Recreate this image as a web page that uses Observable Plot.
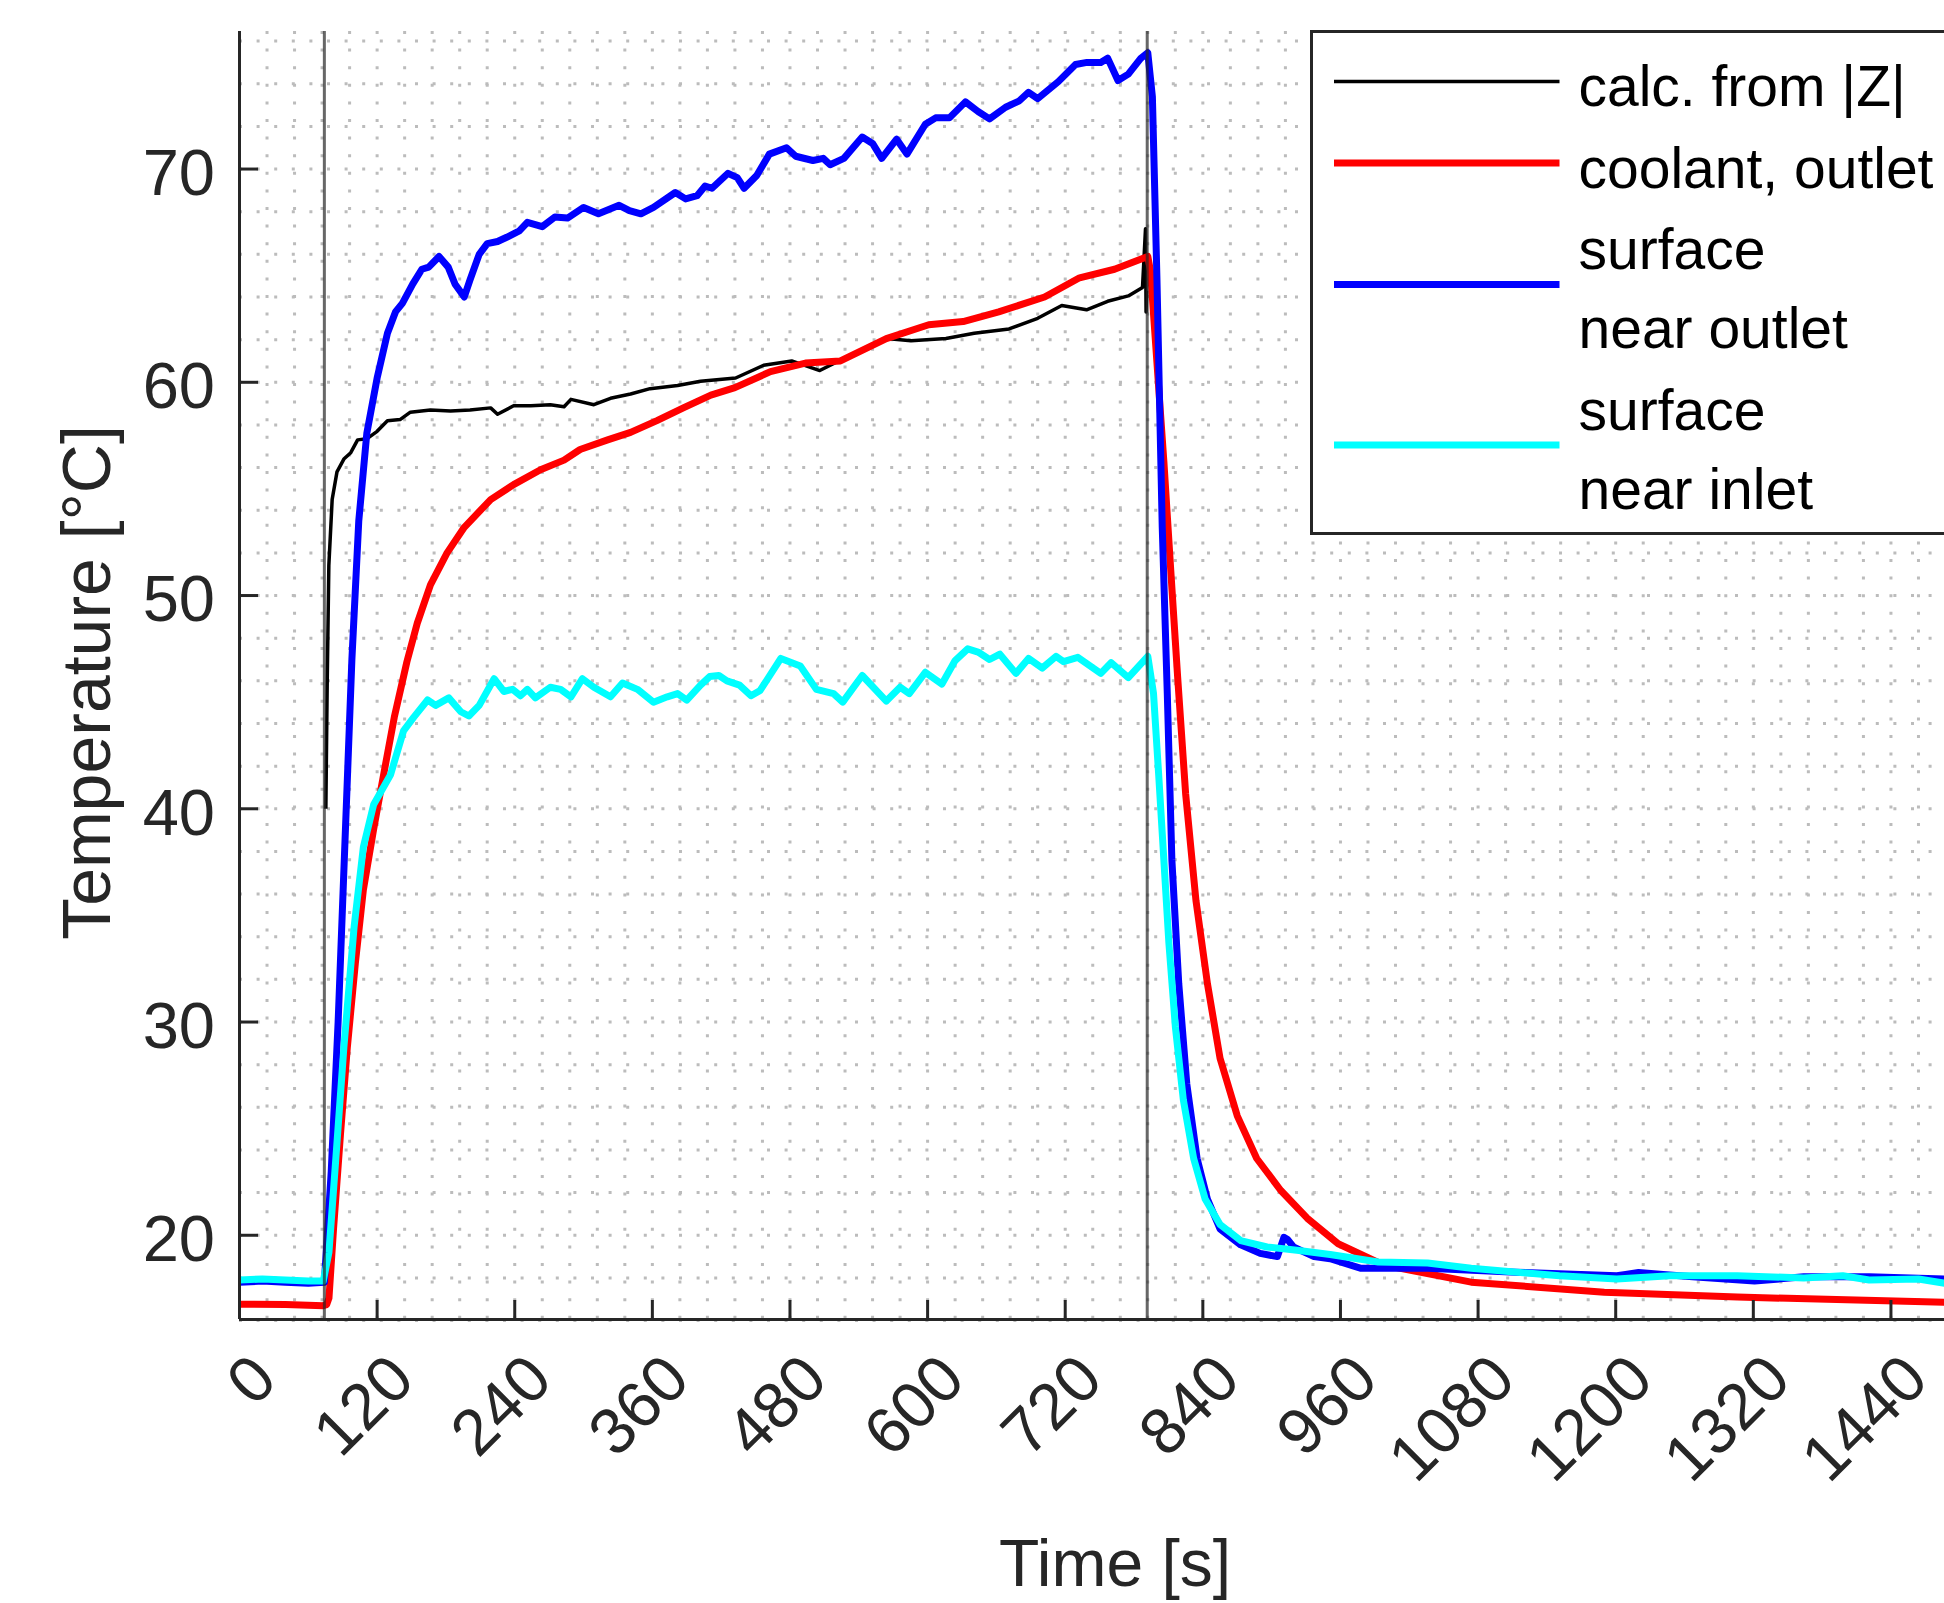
<!DOCTYPE html>
<html>
<head>
<meta charset="utf-8">
<script src="https://cdn.jsdelivr.net/npm/d3@7"></script>
<script src="https://cdn.jsdelivr.net/npm/@observablehq/plot@0.6"></script>
<style>
html, body { margin: 0; padding: 0; background: #fff; overflow: hidden; }
#wrap { position: relative; width: 1944px; height: 1603px; overflow: hidden; background: #fff; }
#legend { position: absolute; left: 1310px; top: 30px; }
</style>
</head>
<body>
<div id="wrap"></div>
<script>
// ---------- data ----------
const xTicks = [0, 120, 240, 360, 480, 600, 720, 840, 960, 1080, 1200, 1320, 1440];
const yTicks = [20, 30, 40, 50, 60, 70];
const xGrid = d3.range(0, 1490, 24);
const yGrid = d3.range(16, 77, 2);
const eventTimes = [74, 791.5];

const seriesNames = ["calc. from |Z|", "coolant, outlet", "surface\nnear outlet", "surface\nnear inlet"];

const blackTime = [75.3, 76.5, 77.9, 80.8, 85, 91, 97, 103, 111, 120, 129, 140, 149, 166.5, 184, 201, 219, 225, 239, 254, 271, 283, 289, 309, 323.5, 341, 358, 382, 402, 432.6, 457, 481.5, 506, 533.5, 564, 585.5, 616, 640.6, 671, 696, 717, 738.6, 757, 775, 787.4, 790, 790.5, 791];
const blackTemp = [40, 46, 51.4, 54.5, 55.8, 56.4, 56.7, 57.3, 57.35, 57.7, 58.2, 58.25, 58.6, 58.7, 58.65, 58.7, 58.8, 58.5, 58.9, 58.9, 58.95, 58.85, 59.2, 58.95, 59.25, 59.45, 59.7, 59.85, 60.05, 60.2, 60.8, 61.0, 60.55, 61.3, 62.05, 61.95, 62.05, 62.3, 62.5, 63.0, 63.6, 63.4, 63.8, 64.05, 64.45, 67.2, 63.3, 64.3];

const redTime = [0, 40, 73, 76, 78, 82, 88, 94, 101, 108, 117, 126, 135, 146, 155, 166.5, 181, 196, 219, 239, 262.5, 283, 297, 321, 341, 364, 387, 411, 432, 463, 493.5, 524, 564, 601, 631, 662, 702, 732.5, 763, 792, 794.4, 800, 806, 812, 818, 825, 834, 844, 855, 870, 887, 908, 931, 958, 998, 1074, 1190, 1306, 1487];
const redTemp = [16.77, 16.75, 16.7, 16.75, 17.05, 20.3, 24.7, 28.8, 32.75, 36.2, 39.05, 41.7, 44.3, 46.9, 48.7, 50.5, 52.0, 53.2, 54.5, 55.2, 55.9, 56.35, 56.85, 57.3, 57.65, 58.2, 58.8, 59.4, 59.75, 60.5, 60.9, 61.0, 62.05, 62.7, 62.85, 63.3, 64.0, 64.9, 65.3, 65.9, 65.2, 60.9, 56.3, 51.2, 46.2, 40.7, 35.7, 31.8, 28.3, 25.6, 23.6, 22.1, 20.8, 19.6, 18.6, 17.8, 17.33, 17.1, 16.86];

const blueTime = [0, 20, 40, 60, 74, 80, 86, 92, 98, 104, 111, 120, 129, 136, 142, 151, 159, 165, 174, 182, 188, 196, 201, 209, 216, 225, 233, 244, 251, 264, 275, 286, 300, 313, 331, 340, 350, 361, 380, 389, 399, 406, 412, 426, 434, 440, 451, 462, 477, 485, 500, 509, 515, 527, 543, 552, 560, 573, 582, 598, 607, 619, 633, 644, 654, 668, 680, 688, 696, 714, 729, 739, 751, 757, 766, 775, 786, 792, 796, 800, 804.6, 809, 813, 819, 826, 835, 844, 855, 873, 890, 905, 910.7, 914, 919, 937, 951, 978, 1036, 1113, 1201, 1220, 1267, 1321, 1364, 1421, 1487];
const blueTemp = [17.8, 17.85, 17.8, 17.75, 17.8, 23, 30, 38.5, 47, 53.5, 57.6, 60.2, 62.3, 63.3, 63.7, 64.6, 65.3, 65.4, 65.9, 65.4, 64.6, 64.0, 64.8, 66.0, 66.5, 66.6, 66.8, 67.1, 67.5, 67.3, 67.75, 67.7, 68.2, 67.9, 68.3, 68.05, 67.9, 68.2, 68.9, 68.6, 68.75, 69.2, 69.1, 69.8, 69.6, 69.1, 69.7, 70.7, 71.0, 70.6, 70.4, 70.5, 70.2, 70.5, 71.5, 71.2, 70.5, 71.4, 70.7, 72.1, 72.4, 72.4, 73.15, 72.7, 72.35, 72.9, 73.2, 73.6, 73.3, 74.1, 74.9, 75.0, 75.0, 75.2, 74.15, 74.45, 75.2, 75.45, 73.4, 64.8, 53.2, 45.4, 37.6, 31.8, 27.1, 23.6, 21.7, 20.3, 19.55, 19.15, 19.0, 19.9, 19.8, 19.45, 19.0, 18.9, 18.45, 18.45, 18.27, 18.1, 18.25, 18.05, 17.85, 18.05, 18.05, 17.95];

const cyanTime = [0, 20, 40, 60, 73, 78, 84, 91, 100, 108, 117, 131.7, 143, 152, 164, 171, 182.5, 193, 200, 209, 222, 230.5, 238, 245, 251, 258, 271, 280, 289, 299, 309, 323.5, 334, 347, 361, 373, 382, 390, 402, 410, 418, 425, 436, 446, 454, 472, 489, 503, 518, 526, 543, 564, 576, 584, 598, 612.5, 624, 635, 644, 654, 663, 677, 688, 700, 712, 718.5, 731, 751, 760, 775, 792, 797, 801.6, 806, 810.4, 816, 823, 832, 842, 855, 873, 896, 922, 951, 993, 1036, 1074, 1151, 1201, 1247, 1306, 1364, 1398, 1421, 1464, 1487];
const cyanTemp = [17.9, 17.95, 17.9, 17.85, 17.85, 19.2, 23.6, 28.8, 34.5, 38.2, 40.2, 41.6, 43.65, 44.3, 45.1, 44.85, 45.2, 44.55, 44.35, 44.85, 46.1, 45.5, 45.6, 45.3, 45.6, 45.2, 45.7, 45.6, 45.25, 46.1, 45.7, 45.25, 45.9, 45.6, 45.0, 45.25, 45.4, 45.1, 45.8, 46.2, 46.25, 46.0, 45.8, 45.3, 45.55, 47.05, 46.7, 45.6, 45.4, 45.0, 46.25, 45.05, 45.7, 45.4, 46.4, 45.85, 46.95, 47.5, 47.35, 47.0, 47.25, 46.35, 47.05, 46.6, 47.15, 46.9, 47.1, 46.35, 46.85, 46.15, 47.15, 45.4, 41.5, 37.6, 33.7, 29.8, 26.35, 23.6, 21.7, 20.5, 19.75, 19.45, 19.3, 19.1, 18.75, 18.7, 18.45, 18.1, 17.95, 18.1, 18.1, 18.0, 18.1, 17.9, 17.95, 17.75];

const seriesColors = ["#000000", "#ff0000", "#0000ff", "#00ffff"];
const seriesWidths = [3.5, 7, 7, 7];

// ---------- build tables ----------
const rows = (ts, vs, s) => ts.map((t, i) => ({t, v: vs[i], s}));
const tables = [
  rows(blackTime, blackTemp, 0),
  rows(redTime, redTemp, 1),
  rows(blueTime, blueTemp, 2),
  rows(cyanTime, cyanTemp, 3)
];

const W = 1944, H = 1603;
const mL = 239, mR = 0, mT = 31, mB = 284;
const frameW = W - mL - mR, frameH = H - mT - mB;
const axisColor = "#262626";
const font = "'Liberation Sans', Arial, Helvetica, sans-serif";

const plot = Plot.plot({
  width: W,
  height: H,
  marginLeft: mL,
  marginRight: mR,
  marginTop: mT,
  marginBottom: mB,
  x: {domain: [0, 1486.7], axis: null},
  y: {domain: [16.05, 76.45], axis: null},
  style: {fontFamily: font, background: "#fff", overflow: "visible"},
  marks: [
    Plot.gridX(xGrid, {stroke: "#bcbcbc", strokeOpacity: 1, strokeWidth: 3, strokeDasharray: "3,14.6"}),
    Plot.gridY(yGrid, {stroke: "#bcbcbc", strokeOpacity: 1, strokeWidth: 3, strokeDasharray: "3,14.6"}),
    ...tables.map((tb, k) => Plot.line(tb, {
      x: "t", y: "v",
      stroke: seriesColors[k],
      strokeWidth: seriesWidths[k],
      strokeLinejoin: "round",
      strokeLinecap: "butt",
      clip: true
    })),
    Plot.ruleX(eventTimes, {stroke: axisColor, strokeOpacity: 0.7, strokeWidth: 3}),
    // axis lines
    Plot.ruleX([0], {stroke: axisColor, strokeWidth: 3}),
    Plot.ruleY([16.05], {stroke: axisColor, strokeWidth: 3}),
    // inward ticks
    Plot.tickX(xTicks, {x: d => d, stroke: axisColor, strokeWidth: 3, insetTop: frameH - 19}),
    Plot.tickY(yTicks, {y: d => d, stroke: axisColor, strokeWidth: 3, insetRight: frameW - 19}),
    // tick labels
    Plot.text(xTicks, {
      x: d => d, text: d => String(d), frameAnchor: "bottom",
      rotate: -45, textAnchor: "end", lineAnchor: "bottom", dx: 40, dy: 63,
      fontSize: 65, fill: axisColor
    }),
    Plot.text(yTicks, {
      y: d => d, text: d => String(d), frameAnchor: "left",
      textAnchor: "end", lineAnchor: "middle", dx: -24.5, dy: 5,
      fontSize: 65, fill: axisColor
    }),
    // axis labels
    Plot.text(["Time [s]"], {
      text: d => d, frameAnchor: "bottom", textAnchor: "middle", lineAnchor: "bottom",
      dx: 23, dy: 266,
      fontSize: 66, fill: axisColor
    }),
    Plot.text(["Temperature [°C]"], {
      text: d => d, frameAnchor: "left", textAnchor: "middle", lineAnchor: "middle",
      rotate: -90, dx: -151, dy: 7,
      fontSize: 68, fill: axisColor
    })
  ]
});

const wrap = document.getElementById("wrap");
wrap.appendChild(plot);

// ---------- legend (HTML-positioned SVG box) ----------
const lg = d3.create("svg")
  .attr("id", "legend")
  .attr("width", W - 1310)
  .attr("height", 506)
  .style("font-family", font);
lg.append("rect")
  .attr("x", 1.5).attr("y", 1.5)
  .attr("width", 900).attr("height", 502)
  .attr("fill", "#fff").attr("stroke", axisColor).attr("stroke-width", 3);

const sampleY = [51.4, 133, 254.6, 415];
const textBase = [[76], [157.5], [238.6, 318], [400, 479]];
seriesNames.forEach((name, k) => {
  lg.append("line")
    .attr("x1", 24).attr("x2", 249.5)
    .attr("y1", sampleY[k]).attr("y2", sampleY[k])
    .attr("stroke", seriesColors[k])
    .attr("stroke-width", seriesWidths[k]);
  name.split("\n").forEach((ln, j) => {
    lg.append("text")
      .attr("x", 268.5).attr("y", textBase[k][j])
      .attr("font-size", 57)
      .attr("fill", "#000")
      .text(ln);
  });
});
wrap.appendChild(lg.node());
</script>
</body>
</html>
